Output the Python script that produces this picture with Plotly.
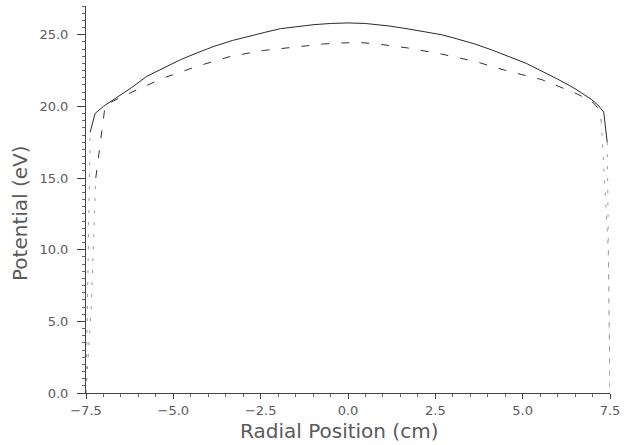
import plotly.graph_objects as go

# Radial position (cm) and potential (eV)
x_solid = [-7.5, -7.45, -7.38, -7.24, -7.0, -6.71, -6.2, -5.76, -5.2, -4.80, -4.3, -3.84, -3.3,
           -2.88, -2.4, -1.93, -1.4, -0.97, -0.5, 0.0, 0.5, 0.76, 1.2, 1.72, 2.2, 2.67, 3.1,
           3.63, 4.1, 4.59, 5.1, 5.55, 6.0, 6.5, 6.98, 7.15, 7.32, 7.42, 7.47, 7.5]
y_solid = [0.0, 9.0, 18.2, 19.5, 20.0, 20.46, 21.3, 22.09, 22.8, 23.25, 23.75, 24.18, 24.6,
           24.88, 25.15, 25.42, 25.6, 25.70, 25.78, 25.82, 25.78, 25.72, 25.6, 25.4, 25.2, 25.0,
           24.72, 24.35, 23.95, 23.49, 23.0, 22.45, 21.9, 21.23, 20.46, 20.1, 19.6, 17.5, 8.0, 0.0]

x_dash = [-7.5, -7.35, -7.22, -7.0, -6.95, -6.24, -5.28, -4.32, -3.36, -2.41, -1.45, -0.7,
          -0.2, 0.3, 0.76, 1.72, 2.67, 3.63, 4.59, 5.55, 6.5, 6.98, 7.15, 7.25, 7.45, 7.5]
y_dash = [0.0, 6.0, 15.0, 19.1, 20.1, 20.93, 21.98, 22.79, 23.49, 23.9, 24.18, 24.35,
          24.42, 24.45, 24.38, 24.07, 23.65, 23.14, 22.45, 21.86, 20.93, 20.35, 19.9, 19.0, 10.0, 0.0]

x_ticks = [-7.5, -5.0, -2.5, 0.0, 2.5, 5.0, 7.5]
y_ticks = [0.0, 5.0, 10.0, 15.0, 20.0, 25.0]

FONT = "DejaVu Sans"
TXT = "#5a5a5a"

W, H = 627, 445
ML, MR, MT, MB = 86, 17, 6, 52
PW, PH = W - ML - MR, H - MT - MB


def px_to_paper(px, py):
    return (px - ML) / PW, (H - MB - py) / PH


fig = go.Figure()
# main parts of the profiles
fig.add_trace(go.Scatter(x=x_solid[2:-2], y=y_solid[2:-2], mode="lines",
                         line=dict(color="#2a2a2a", width=1), showlegend=False))
fig.add_trace(go.Scatter(x=x_dash[2:-2], y=y_dash[2:-2], mode="lines",
                         line=dict(color="#333333", width=1, dash="8px,12px"), showlegend=False))
# steep sheath drops at the walls (drawn faint, as in the reference)
for xs, ys in ((x_solid[:3], y_solid[:3]), (x_solid[-3:], y_solid[-3:]),
               (x_dash[:3], y_dash[:3]), (x_dash[-3:], y_dash[-3:])):
    fig.add_trace(go.Scatter(x=xs, y=ys, mode="lines",
                             line=dict(color="#9a9a9a", width=1, dash="3px,9px"), showlegend=False))

tx, ty = px_to_paper(339, 431)
yx, yy = px_to_paper(20, 213)

fig.update_layout(
    width=W, height=H,
    margin=dict(l=ML, r=MR, t=MT, b=MB),
    paper_bgcolor="white", plot_bgcolor="white",
    font=dict(family=FONT, color=TXT, size=13),
    xaxis=dict(range=[-7.5, 7.5], tickvals=x_ticks, tickformat=".1f",
               showgrid=False, zeroline=False, showline=True, linecolor="#444", linewidth=1,
               ticks="outside", ticklen=5, tickcolor="#444",
               minor=dict(dtick=0.5, ticks="outside", ticklen=3, tickcolor="#666"),
               tickfont=dict(size=13, color=TXT)),
    yaxis=dict(range=[0, 27], tickvals=y_ticks, tickformat=".1f",
               showgrid=False, zeroline=False, showline=True, linecolor="#444", linewidth=1,
               ticks="outside", ticklen=8, tickcolor="#444", ticklabelstandoff=6,
               minor=dict(dtick=0.5, ticks="outside", ticklen=3, tickcolor="#666"),
               tickfont=dict(size=13, color=TXT)),
    annotations=[
        dict(text="Radial Position (cm)", x=tx, y=ty, xref="paper", yref="paper",
             xanchor="center", yanchor="middle",
             showarrow=False, font=dict(size=20, color=TXT, family=FONT)),
        dict(text="Potential (eV)", x=yx, y=yy, xref="paper", yref="paper",
             xanchor="center", yanchor="middle",
             showarrow=False, textangle=-90, font=dict(size=20, color=TXT, family=FONT)),
    ],
)

fig.write_html("out.html", config={"displayModeBar": False},
               post_script="document.body.style.margin='0';")
